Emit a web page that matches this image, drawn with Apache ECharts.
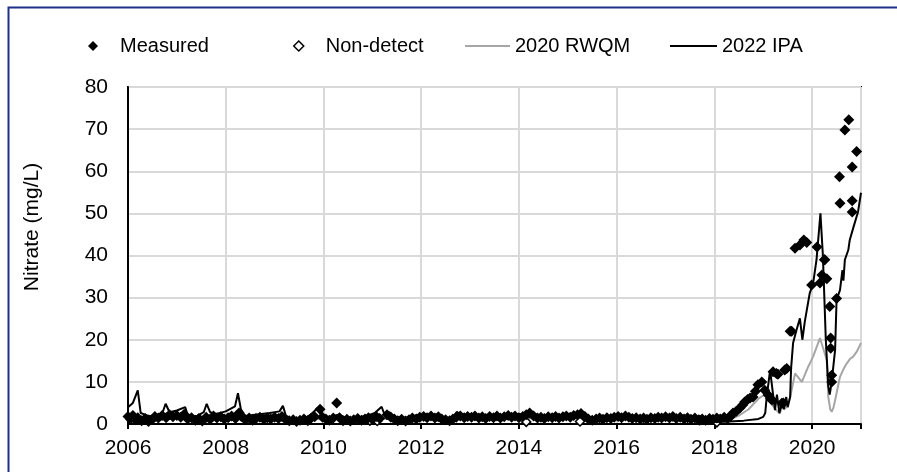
<!DOCTYPE html>
<html>
<head>
<meta charset="utf-8">
<script src="https://cdn.jsdelivr.net/npm/echarts@6/dist/echarts.min.js"></script>
<style>
  html, body { margin: 0; padding: 0; background: #fff; }
  #chart { width: 897px; height: 472px; }
</style>
</head>
<body>
<div id="chart"></div>
<script>
// [decimal year, nitrate mg/L]
const measured = [
  [2006.0, 1.8], [2006.05, 1.2], [2006.1, 2.0], [2006.15, 1.0], [2006.2, 1.5], [2006.28, 0.8], [2006.35, 1.3],
  [2006.42, 0.6], [2006.5, 1.1], [2006.55, 1.8], [2006.62, 1.4], [2006.7, 2.0], [2006.78, 1.5], [2006.85, 2.2],
  [2006.92, 1.7], [2007.0, 2.0], [2007.08, 1.6], [2007.15, 2.3], [2007.22, 1.2], [2007.3, 1.5], [2007.38, 0.9],
  [2007.45, 1.3], [2007.52, 0.7], [2007.6, 1.6], [2007.68, 1.1], [2007.75, 1.9], [2007.82, 1.4], [2007.9, 1.7],
  [2007.97, 1.2], [2008.05, 1.5], [2008.12, 1.9], [2008.2, 1.3], [2008.27, 2.6], [2008.32, 1.8], [2008.4, 1.0],
  [2008.48, 1.4], [2008.55, 0.9], [2008.62, 1.3], [2008.7, 1.6], [2008.78, 1.1], [2008.85, 1.5], [2008.92, 1.2],
  [2009.0, 1.6], [2009.08, 1.3], [2009.15, 1.8], [2009.22, 1.1], [2009.3, 0.8], [2009.38, 1.0], [2009.45, 0.6],
  [2009.52, 0.9], [2009.6, 1.2], [2009.68, 0.8], [2009.75, 1.4], [2009.82, 1.7], [2009.93, 3.5], [2009.98, 1.6],
  [2010.05, 1.2], [2010.12, 0.9], [2010.2, 1.4], [2010.27, 5.0], [2010.33, 1.5], [2010.4, 0.8], [2010.48, 1.1],
  [2010.55, 0.7], [2010.62, 1.0], [2010.7, 1.3], [2010.78, 0.9], [2010.85, 1.2], [2010.92, 1.5], [2011.0, 1.1],
  [2011.08, 1.8], [2011.15, 1.3], [2011.3, 2.2], [2011.38, 1.6], [2011.45, 1.2], [2011.52, 0.8], [2011.6, 1.1],
  [2011.68, 0.7], [2011.75, 1.0], [2011.82, 1.4], [2011.9, 1.2], [2011.97, 1.6], [2012.05, 1.8], [2012.12, 1.5],
  [2012.2, 1.9], [2012.28, 1.4], [2012.35, 1.7], [2012.42, 1.2], [2012.5, 1.0], [2012.58, 0.8], [2012.65, 1.2],
  [2012.72, 1.6], [2012.8, 1.9], [2012.88, 1.5], [2012.95, 1.8], [2013.03, 1.6], [2013.1, 1.9], [2013.18, 1.4],
  [2013.25, 1.7], [2013.32, 1.3], [2013.4, 1.8], [2013.48, 1.5], [2013.55, 1.9], [2013.62, 1.4], [2013.7, 1.7],
  [2013.78, 2.0], [2013.85, 1.6], [2013.92, 1.9], [2014.0, 1.5], [2014.08, 1.8], [2014.15, 2.2], [2014.22, 2.6],
  [2014.3, 1.9], [2014.38, 1.4], [2014.45, 1.6], [2014.52, 1.3], [2014.6, 1.7], [2014.68, 1.5], [2014.75, 1.8],
  [2014.82, 1.4], [2014.9, 1.7], [2014.97, 1.9], [2015.05, 1.6], [2015.12, 2.0], [2015.2, 2.2], [2015.27, 2.5],
  [2015.35, 1.8], [2015.42, 1.2], [2015.5, 0.9], [2015.58, 1.2], [2015.65, 1.4], [2015.72, 1.1], [2015.8, 1.5],
  [2015.88, 1.3], [2015.95, 1.6], [2016.03, 1.8], [2016.1, 1.5], [2016.18, 1.9], [2016.25, 1.6], [2016.32, 1.3],
  [2016.4, 1.5], [2016.48, 1.2], [2016.55, 1.4], [2016.62, 1.1], [2016.7, 1.5], [2016.78, 1.3], [2016.85, 1.6],
  [2016.92, 1.4], [2017.0, 1.7], [2017.08, 1.4], [2017.15, 1.8], [2017.22, 1.3], [2017.3, 1.6], [2017.38, 1.2],
  [2017.45, 1.5], [2017.52, 1.1], [2017.6, 1.4], [2017.68, 1.0], [2017.75, 1.2], [2017.82, 0.9], [2017.9, 1.3],
  [2017.97, 1.1], [2018.05, 1.4], [2018.12, 1.2], [2018.2, 1.6], [2018.27, 1.3], [2018.33, 1.8], [2018.38, 2.6],
  [2018.45, 3.0], [2018.52, 3.8], [2018.58, 4.5], [2018.62, 5.2], [2018.68, 5.8], [2018.73, 6.2], [2018.79, 6.4],
  [2018.84, 7.8], [2018.89, 9.3], [2018.97, 10.0], [2019.03, 8.0], [2019.1, 6.9], [2019.15, 6.0], [2019.18, 5.7],
  [2019.2, 12.4], [2019.27, 12.0], [2019.3, 11.8], [2019.38, 4.9], [2019.41, 5.0], [2019.44, 12.8], [2019.48, 13.2],
  [2019.55, 22.0], [2019.58, 22.0], [2019.65, 41.7], [2019.75, 42.5], [2019.83, 43.7], [2019.89, 43.1],
  [2019.99, 33.0], [2020.1, 42.0], [2020.16, 33.5], [2020.2, 35.4], [2020.25, 39.0], [2020.26, 39.0],
  [2020.3, 34.5], [2020.36, 27.9], [2020.38, 20.4], [2020.38, 18.0], [2020.4, 11.6], [2020.4, 10.0],
  [2020.5, 29.8], [2020.56, 58.7], [2020.57, 52.4], [2020.67, 69.8], [2020.75, 72.2], [2020.82, 61.0],
  [2020.82, 53.0], [2020.82, 50.3], [2020.91, 64.7]
];

const nonDetect = [
  [2010.95, 0.8], [2011.1, 0.7], [2014.15, 0.5], [2015.25, 0.6], [2017.7, 0.9], [2018.05, 0.4]
];

const rwqm = [
  [2006.0, 1.3], [2008.0, 1.2], [2010.0, 1.1], [2012.0, 1.3], [2014.0, 1.4], [2016.0, 1.3], [2017.5, 1.1],
  [2018.0, 0.8], [2018.3, 1.0], [2018.5, 2.0], [2018.7, 3.5], [2018.9, 6.0], [2019.07, 7.3], [2019.15, 5.0],
  [2019.25, 3.5], [2019.34, 2.5], [2019.4, 5.0], [2019.44, 3.5], [2019.48, 4.1], [2019.55, 6.3], [2019.65, 12.0],
  [2019.72, 11.0], [2019.79, 10.0], [2019.92, 13.6], [2020.02, 16.0], [2020.16, 20.4], [2020.3, 15.2],
  [2020.33, 6.5], [2020.37, 3.5], [2020.4, 2.9], [2020.44, 4.0], [2020.5, 7.3], [2020.57, 11.2], [2020.64, 13.0],
  [2020.71, 14.4], [2020.78, 15.5], [2020.84, 16.0], [2020.92, 17.3], [2020.98, 18.8], [2021.0, 19.2]
];

const ipa = [
  [2006.0, 4.0], [2006.1, 5.0], [2006.2, 8.0], [2006.26, 2.6], [2006.4, 2.0], [2006.55, 1.6], [2006.7, 2.5],
  [2006.77, 4.8], [2006.85, 2.8], [2007.0, 3.2], [2007.17, 4.0], [2007.22, 2.2], [2007.4, 1.8], [2007.55, 2.8],
  [2007.61, 4.8], [2007.68, 2.8], [2007.8, 2.4], [2008.0, 3.0], [2008.19, 4.2], [2008.25, 7.3], [2008.31, 3.5],
  [2008.4, 1.9], [2008.6, 2.2], [2008.9, 2.6], [2009.1, 3.0], [2009.17, 4.3], [2009.23, 2.0], [2009.35, 1.2],
  [2009.6, 1.3], [2009.75, 2.3], [2009.88, 3.8], [2009.95, 2.0], [2010.1, 1.5], [2010.3, 2.2], [2010.5, 1.3],
  [2010.7, 1.5], [2010.9, 2.0], [2011.05, 2.6], [2011.19, 4.1], [2011.25, 2.2], [2011.35, 2.8], [2011.45, 1.6],
  [2011.7, 1.5], [2011.9, 2.0], [2012.1, 2.1], [2012.3, 1.7], [2012.5, 1.3], [2012.65, 1.6], [2012.73, 2.9],
  [2012.8, 2.1], [2013.0, 2.0], [2013.3, 1.8], [2013.6, 2.1], [2013.9, 2.4], [2014.1, 2.3], [2014.22, 3.2],
  [2014.3, 2.4], [2014.5, 1.8], [2014.8, 1.9], [2015.0, 2.2], [2015.25, 2.8], [2015.35, 1.7], [2015.5, 1.2],
  [2015.8, 1.8], [2016.1, 2.2], [2016.3, 2.0], [2016.5, 1.5], [2016.8, 1.6], [2017.0, 1.8], [2017.3, 1.9],
  [2017.6, 1.5], [2017.75, 1.8], [2017.85, 0.8], [2018.0, 0.5], [2018.3, 0.6], [2018.6, 0.8], [2018.9, 1.2],
  [2019.0, 1.7], [2019.04, 2.6], [2019.07, 6.4], [2019.14, 12.8], [2019.19, 8.0], [2019.24, 3.3], [2019.28, 7.0],
  [2019.33, 2.6], [2019.38, 5.0], [2019.42, 3.5], [2019.47, 6.4], [2019.5, 4.0], [2019.55, 6.4], [2019.57, 13.3],
  [2019.61, 19.2], [2019.68, 22.3], [2019.72, 21.9], [2019.75, 25.1], [2019.8, 20.0], [2019.85, 24.3],
  [2019.95, 31.0], [2020.02, 33.4], [2020.09, 39.0], [2020.17, 50.0], [2020.22, 40.0], [2020.28, 20.0],
  [2020.33, 9.0], [2020.36, 7.0], [2020.4, 10.0], [2020.47, 17.6], [2020.5, 29.5], [2020.57, 31.8],
  [2020.62, 36.5], [2020.64, 34.0], [2020.67, 39.0], [2020.74, 41.3], [2020.77, 43.7], [2020.84, 46.5],
  [2020.94, 50.4], [2021.0, 54.9]
];

const yearTicks = [2006, 2008, 2010, 2012, 2014, 2016, 2018, 2020];

const chart = echarts.init(document.getElementById('chart'), null, { renderer: 'canvas' });
const font = 'Arial, "Liberation Sans", sans-serif';
const legendText = { fontFamily: font, fontSize: 20, color: '#000' };

const option = {
  backgroundColor: '#fff',
  animation: false,
  textStyle: { fontFamily: font },
  grid: { left: 128, right: 36, top: 87, bottom: 48, show: true, borderColor: '#000', borderWidth: 2, containLabel: false },
  legend: [
    { data: [{ name: 'Measured', icon: 'diamond' }], left: 83, top: 31, itemWidth: 10, itemHeight: 10,
      textStyle: { ...legendText, padding: [0, 0, 0, 17] } },
    { data: [{ name: 'Non-detect', icon: 'diamond', itemStyle: { color: '#fff', borderColor: '#000', borderWidth: 1.5 } }],
      left: 288, top: 31, itemWidth: 10, itemHeight: 10, textStyle: { ...legendText, padding: [0, 0, 0, 17] } },
    { data: [{ name: '2020 RWQM', icon: 'rect' }], left: 460, top: 31, itemWidth: 45, itemHeight: 2, textStyle: legendText },
    { data: [{ name: '2022 IPA', icon: 'rect' }], left: 665, top: 31, itemWidth: 47, itemHeight: 2, textStyle: legendText }
  ],
  xAxis: {
    type: 'value', min: 2006, max: 2021, interval: 2,
    axisLine: { lineStyle: { color: '#000', width: 2 } },
    axisTick: { show: true, inside: false, length: 5, lineStyle: { color: '#000', width: 2 } },
    axisLabel: {
      fontFamily: font, fontSize: 21, color: '#000', margin: 14,
      formatter: v => (yearTicks.indexOf(v) >= 0 ? String(v) : '')
    },
    splitLine: { show: true, lineStyle: { color: '#d9d9d9', width: 2 } }
  },
  yAxis: {
    type: 'value', min: 0, max: 80, interval: 10,
    axisLine: { show: true, lineStyle: { color: '#000', width: 2 } },
    axisTick: { show: false },
    axisLabel: { fontFamily: font, fontSize: 21, color: '#000', margin: 20 },
    splitLine: { show: true, lineStyle: { color: '#d9d9d9', width: 2 } }
  },
  graphic: [
    { type: 'rect', left: 6, top: 5, silent: true, z: 100,
      shape: { width: 1000, height: 1000 }, style: { fill: 'none', stroke: '#1f2f8a', lineWidth: 2 } },
    { type: 'text', x: 32, y: 227, rotation: Math.PI / 2, silent: true,
      style: { text: 'Nitrate (mg/L)', fontFamily: font, fontSize: 21, fill: '#000', align: 'center', verticalAlign: 'middle' } }
  ],
  series: [
    { name: 'Measured', type: 'scatter', data: measured, symbol: 'diamond', symbolSize: 11,
      itemStyle: { color: '#000', opacity: 1 }, z: 4 },
    { name: 'Non-detect', type: 'scatter', data: nonDetect, symbol: 'diamond', symbolSize: 9,
      itemStyle: { color: '#fff', borderColor: '#000', borderWidth: 1.5, opacity: 1 }, z: 3 },
    { name: '2020 RWQM', type: 'line', data: rwqm, showSymbol: false, symbol: 'none',
      lineStyle: { color: '#a6a6a6', width: 2 }, itemStyle: { color: '#a6a6a6' }, z: 2 },
    { name: '2022 IPA', type: 'line', data: ipa, showSymbol: false, symbol: 'none',
      lineStyle: { color: '#000', width: 2 }, itemStyle: { color: '#000' }, z: 5 }
  ]
};

chart.setOption(option);
</script>
</body>
</html>
